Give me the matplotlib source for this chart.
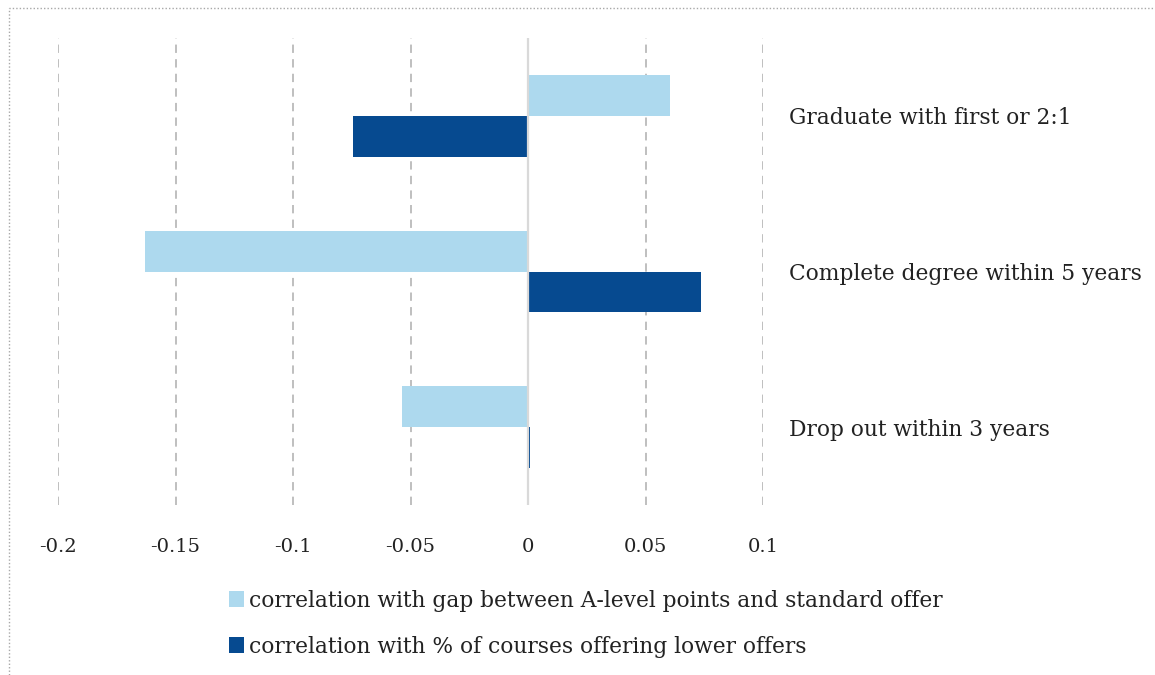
import matplotlib
matplotlib.use("Agg")
import matplotlib.pyplot as plt
from matplotlib.patches import Patch, Rectangle
import numpy as np

categories = ["Drop out within 3 years", "Complete degree within 5 years", "Graduate with first or 2:1"]
gap_corr = [-0.0535, -0.163, 0.0605]
lower_offer_corr = [0.001, 0.0737, -0.0745]
series_labels = ["correlation with gap between A-level points and standard offer",
                 "correlation with % of courses offering lower offers"]
xticks = [-0.2, -0.15, -0.1, -0.05, 0, 0.05, 0.1]
xtick_labels = ["-0.2", "-0.15", "-0.1", "-0.05", "0", "0.05", "0.1"]

light = "#add9ee"
dark = "#064a90"

plt.rcParams['font.family'] = ['DejaVu Serif']
plt.rcParams['lines.scale_dashes'] = False

W, H = 1155, 675
fig = plt.figure(figsize=(W/100, H/100), dpi=100)
ax = fig.add_axes([58/W, (H-505)/H, (763-58)/W, (505-38)/H])

y = np.arange(len(categories))
bh = 0.263
ax.barh(y + bh/2, gap_corr, height=bh, color=light, zorder=3)
ax.barh(y - bh/2, lower_offer_corr, height=bh, color=dark, zorder=3)

ax.set_xlim(-0.2, 0.1)
ax.set_ylim(-0.5, 2.5)
for v in xticks:
    if v != 0:
        ax.axvline(v, color="#c0c0c0", lw=1.44, linestyle=(0, (6, 4.5)), zorder=1)
ax.axvline(0, color="#d9d9d9", lw=1.6, zorder=4)

for s in ax.spines.values():
    s.set_visible(False)
ax.set_xticks(xticks)
ax.set_xticklabels(xtick_labels, fontsize=14, color="#222222")
ax.tick_params(axis='x', length=0, pad=24)
ax.yaxis.tick_right()
ax.set_yticks(y)
ax.set_yticklabels(categories, fontsize=15.7, color="#222222")
ax.tick_params(axis='y', length=0, pad=19)

handles = [Patch(facecolor=light, edgecolor='none'), Patch(facecolor=dark, edgecolor='none')]
fig.legend(handles, series_labels, loc='upper left', bbox_to_anchor=(209/W, 1 - 570/H),
           frameon=False, fontsize=15.7, handlelength=0.7, handleheight=0.7,
           handletextpad=0.25, labelspacing=1.1, labelcolor="#222222")

fig.patches.append(Rectangle((9/W, -0.1), 1.2, (H-8)/H + 0.1, transform=fig.transFigure,
                             fill=False, edgecolor="#a8a8a8", lw=1.0, linestyle=(0, (1, 1.5))))

fig.savefig("out.png", dpi=100)
